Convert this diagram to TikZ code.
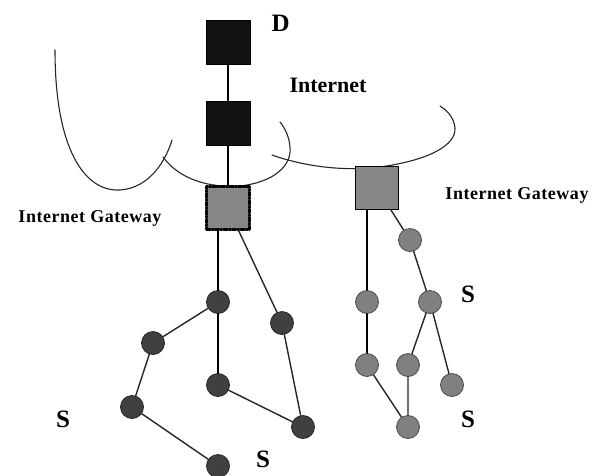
\documentclass[tikz,border=0pt]{standalone}
\usepackage{fontspec}
\setmainfont{Liberation Serif}
\newfontfamily\gwfont[LetterSpace=3]{Liberation Serif}
\newcommand\labS{\fontsize{25}{28}\selectfont\bfseries}
\begin{document}
\begin{tikzpicture}[x=1pt,y=-1pt,line cap=round,line join=round,font=\bfseries]
\tikzset{
	router/.style={draw=black,fill=black!93,minimum size=44pt,inner sep=0pt,line width=1pt},
	gate/.style={draw=black,fill=black!47,minimum size=43pt,inner sep=0pt,line width=1.3pt},
	sensa/.style={circle,draw=black!85,fill=black!75,minimum size=23pt,inner sep=0pt,line width=0.8pt},
	sensb/.style={circle,draw=black!70,fill=black!50,minimum size=23pt,inner sep=0pt,line width=0.8pt},
	link/.style={line width=1.4pt,black!85},
	cloud/.style={line width=1.1pt,black!85},
	gwlabel/.style={font=\gwfont\fontsize{18}{21}\selectfont\bfseries}
}
\useasboundingbox (0,0) rectangle (595,475);
% internet clouds
\draw[cloud] (55,50) .. controls (55,150) and (85,192) .. (120,190) .. controls (150,188) and (166,160) .. (172,140);
\draw[cloud] (163,157) .. controls (180,180) and (210,188) .. (240,186) .. controls (275,182) and (292,165) .. (290,147) .. controls (289,135) and (284,127) .. (280,122);
\draw[cloud] (272,155) .. controls (300,165) and (340,172) .. (380,167) .. controls (430,160) and (456,145) .. (455,128) .. controls (454,118) and (448,111) .. (440,106);
% routers and gateways
\node[router] (dst) at (228,42) {};
\node[router] (rt) at (228,123) {};
\node[gate,dash pattern=on 4pt off 1.5pt on 1.5pt off 1.5pt,line width=2.4pt] (gwa) at (228,208) {};
\node[gate] (gwb) at (377,188) {};
\node[anchor=west,font=\labS] at (268,23) {D};
\node[font=\fontsize{22}{26}\selectfont\bfseries] at (328,85) {Internet};
\node[gwlabel] at (90,218) {Internet Gateway};
\node[gwlabel] at (517,195) {Internet Gateway};
\draw[line width=1.4pt] (dst) -- (rt) -- (gwa);
% left field
\node[sensa] (a1) at (218,302) {};
\node[sensa] (a2) at (153,343) {};
\node[sensa] (a3) at (132,407) {};
\node[sensa] (a4) at (218,466) {};
\node[sensa] (a5) at (218,385) {};
\node[sensa] (a6) at (282,323) {};
\node[sensa] (a7) at (303,427) {};
\draw[line width=1.4pt] (gwa.south -| a1) -- (a1) -- (a5);
\draw[link] (gwa) -- (a6) -- (a7) -- (a5);
\draw[link] (a1) -- (a2) -- (a3) -- (a4);
% right field
\node[sensb] (b1) at (410,240) {};
\node[sensb] (b2) at (367,302) {};
\node[sensb] (b3) at (430,302) {};
\node[sensb] (b4) at (367,365) {};
\node[sensb] (b5) at (408,365) {};
\node[sensb] (b6) at (452,385) {};
\node[sensb] (b7) at (408,427) {};
\draw[line width=1.4pt] (gwb.south -| b2) -- (b2) -- (b4);
\draw[link] (gwb) -- (b1) -- (b3) -- (b5) -- (b7) -- (b4);
\draw[link] (b3) -- (b6);
% sink labels
\node[font=\labS] at (63,419) {S};
\node[font=\labS] at (263,459) {S};
\node[font=\labS] at (468,294) {S};
\node[font=\labS] at (468,419) {S};
\end{tikzpicture}
\end{document}
